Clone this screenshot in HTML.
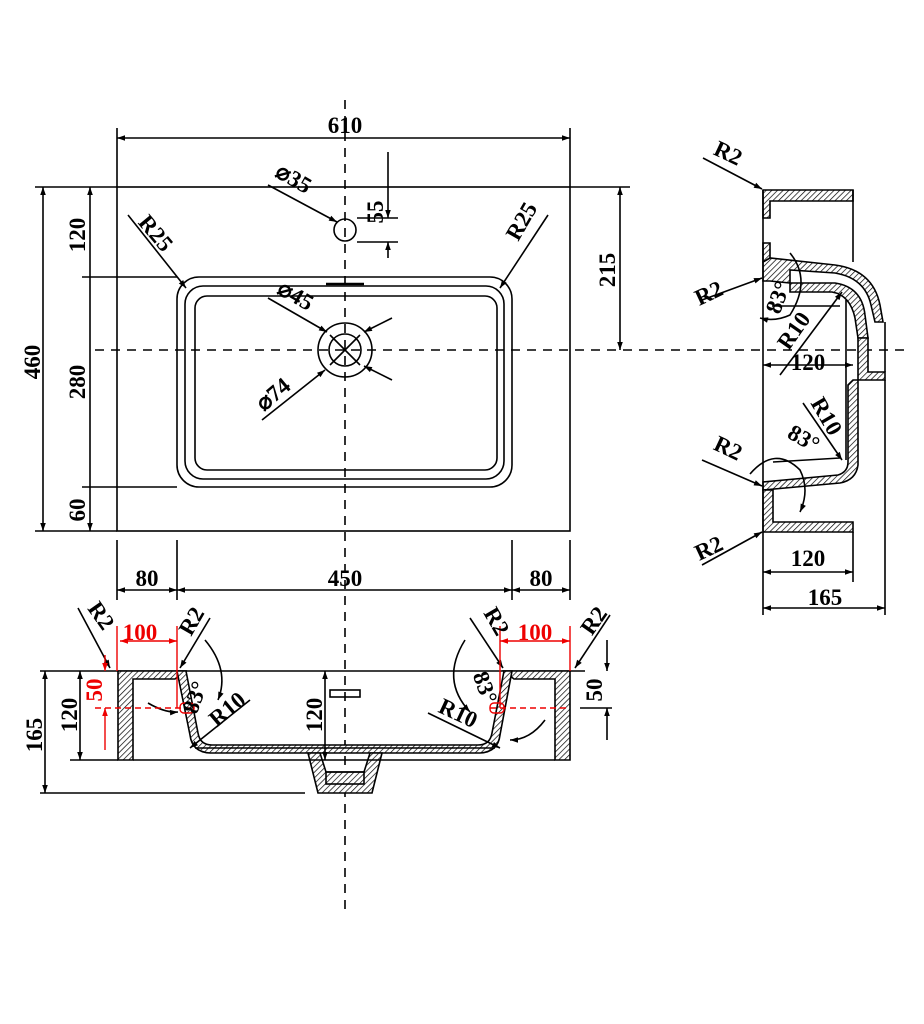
<!DOCTYPE html>
<html><head><meta charset="utf-8"><style>
html,body{margin:0;padding:0;background:#fff;}
svg{display:block;}
text{font-family:"Liberation Serif",serif;font-weight:bold;fill:#000;}
</style></head><body>
<svg width="924" height="1024" viewBox="0 0 924 1024" xmlns="http://www.w3.org/2000/svg">
<defs>
<pattern id="h" width="4" height="4" patternUnits="userSpaceOnUse" patternTransform="rotate(45)">
<rect width="4" height="4" fill="#fff"/><line x1="0" y1="0" x2="0" y2="4" stroke="#000" stroke-width="1.4"/></pattern>
<marker id="a" viewBox="0 0 10 10" refX="10" refY="5" markerWidth="11" markerHeight="8" orient="auto-start-reverse" markerUnits="userSpaceOnUse"><path d="M0,1.5L10,5L0,8.5z" fill="#000"/></marker>
<marker id="r" viewBox="0 0 10 10" refX="10" refY="5" markerWidth="11" markerHeight="8" orient="auto-start-reverse" markerUnits="userSpaceOnUse"><path d="M0,1.5L10,5L0,8.5z" fill="#e00"/></marker>
</defs>
<g fill="none" stroke="#000" stroke-width="1.6">
<line x1="345" y1="100" x2="345" y2="910" stroke-dasharray="9,7"/>
<line x1="95" y1="350" x2="910" y2="350" stroke-dasharray="9,7"/>
<rect x="117" y="187" width="453" height="344"/>
<rect x="177" y="277" width="335" height="210" rx="22"/>
<rect x="185" y="286" width="319" height="193" rx="18"/>
<rect x="195" y="296" width="302" height="174" rx="12"/>
<line x1="326" y1="284" x2="364" y2="284" stroke-width="2.5"/>
<circle cx="345" cy="230" r="11"/>
<circle cx="345" cy="350" r="27"/><circle cx="345" cy="350" r="16"/>
<line x1="330" y1="335" x2="360" y2="365"/><line x1="360" y1="335" x2="330" y2="365"/>
<line x1="117" y1="128" x2="117" y2="187"/><line x1="570" y1="128" x2="570" y2="187"/>
<line x1="117" y1="138" x2="570" y2="138" marker-start="url(#a)" marker-end="url(#a)"/>
<line x1="35" y1="187" x2="117" y2="187"/><line x1="35" y1="531" x2="117" y2="531"/>
<line x1="43" y1="187" x2="43" y2="531" marker-start="url(#a)" marker-end="url(#a)"/>
<line x1="82" y1="277" x2="177" y2="277"/><line x1="82" y1="487" x2="177" y2="487"/>
<line x1="90" y1="187" x2="90" y2="531" marker-start="url(#a)" marker-end="url(#a)"/>
<line x1="570" y1="187" x2="630" y2="187"/>
<line x1="620" y1="187" x2="620" y2="350" marker-start="url(#a)" marker-end="url(#a)"/>
<line x1="357" y1="218" x2="398" y2="218"/><line x1="357" y1="242" x2="398" y2="242"/>
<line x1="388" y1="152" x2="388" y2="218" marker-end="url(#a)"/>
<line x1="388" y1="258" x2="388" y2="242" marker-end="url(#a)"/>
<line x1="268" y1="185" x2="337" y2="222" marker-end="url(#a)"/>
<line x1="268" y1="298" x2="327" y2="332" marker-end="url(#a)"/>
<line x1="262" y1="420" x2="325" y2="370" marker-end="url(#a)"/>
<line x1="392" y1="318" x2="364" y2="332" marker-end="url(#a)"/>
<line x1="392" y1="380" x2="364" y2="366" marker-end="url(#a)"/>
<line x1="128" y1="215" x2="186" y2="288" marker-end="url(#a)"/>
<line x1="548" y1="215" x2="500" y2="288" marker-end="url(#a)"/>
<line x1="117" y1="540" x2="117" y2="600"/><line x1="177" y1="540" x2="177" y2="600"/>
<line x1="512" y1="540" x2="512" y2="600"/><line x1="570" y1="540" x2="570" y2="600"/>
<line x1="117" y1="590" x2="177" y2="590" marker-start="url(#a)" marker-end="url(#a)"/>
<line x1="177" y1="590" x2="512" y2="590" marker-start="url(#a)" marker-end="url(#a)"/>
<line x1="512" y1="590" x2="570" y2="590" marker-start="url(#a)" marker-end="url(#a)"/>
<!-- front section -->
<line x1="40" y1="671" x2="585" y2="671"/>
<line x1="70" y1="760" x2="118" y2="760"/>
<line x1="40" y1="793" x2="305" y2="793"/>
<path d="M118,671 V760 H133 V679 H175 L185,671 Z" fill="url(#h)"/>
<path d="M570,671 V760 H555 V679 H514 L504,671 Z" fill="url(#h)"/>
<path d="M177,671 L190,735 Q192,752 210,753 H480 Q498,752 500,735 L512,671 L504,671 L492,733 Q490,745 478,745 H212 Q200,745 198,733 L186,671 Z" fill="url(#h)"/>
<path d="M308,753 L318,793 H372 L382,753 H370 L364,772 H326 L320,753 Z" fill="url(#h)"/>
<rect x="326" y="772" width="38" height="12"/>
<rect x="330" y="690" width="30" height="7"/>
<line x1="133" y1="760" x2="555" y2="760"/>
<line x1="195" y1="748" x2="495" y2="748"/>
<line x1="45" y1="671" x2="45" y2="793" marker-start="url(#a)" marker-end="url(#a)"/>
<line x1="80" y1="671" x2="80" y2="760" marker-start="url(#a)" marker-end="url(#a)"/>
<line x1="325" y1="671" x2="325" y2="760" marker-start="url(#a)" marker-end="url(#a)"/>
<line x1="580" y1="708" x2="612" y2="708"/>
<line x1="607" y1="640" x2="607" y2="671" marker-end="url(#a)"/>
<line x1="607" y1="740" x2="607" y2="708" marker-end="url(#a)"/>
<line x1="78" y1="608" x2="110" y2="668" marker-end="url(#a)"/>
<line x1="210" y1="618" x2="180" y2="668" marker-end="url(#a)"/>
<line x1="470" y1="618" x2="503" y2="668" marker-end="url(#a)"/>
<line x1="610" y1="615" x2="575" y2="668" marker-end="url(#a)"/>
<line x1="250" y1="700" x2="190" y2="748" marker-end="url(#a)"/>
<line x1="428" y1="713" x2="500" y2="748" marker-end="url(#a)"/>
<path d="M205,640 Q230,670 218,700" marker-end="url(#a)"/>
<path d="M148,703 Q165,713 178,712" marker-end="url(#a)"/>
<path d="M465,640 Q440,680 470,712" marker-end="url(#a)"/>
<path d="M545,720 Q530,740 510,740" marker-end="url(#a)"/>
<!-- side view -->
<path d="M763,190 H853 V201 H770 V218 H763 Z" fill="url(#h)"/>
<path d="M763,243 H770 V262 H763 Z" fill="url(#h)"/>
<path d="M763,262 L770,258 L835,265 Q873,270 880,305 L883,322 H875 L871,305 Q865,278 835,273 L790,270 V283 L770,281 L763,281 Z" fill="url(#h)"/>
<path d="M790,283 L835,283 Q862,287 865,315 L868,338 H858 L855,318 Q850,295 832,292 L790,292 Z" fill="url(#h)"/>
<path d="M858,338 V380 H885 V372 H868 V338 Z" fill="url(#h)"/>
<path d="M853,380 L858,380 V465 Q856,480 840,483 L763,490 V482 L838,475 Q848,472 848,462 V385 Z" fill="url(#h)"/>
<path d="M763,490 H773 V522 H853 V532 H763 Z" fill="url(#h)"/>
<line x1="763" y1="190" x2="763" y2="532"/>
<line x1="853" y1="190" x2="853" y2="262"/>
<line x1="885" y1="322" x2="885" y2="372"/>
<line x1="885" y1="380" x2="885" y2="615"/>
<line x1="772" y1="306" x2="840" y2="306"/>
<line x1="773" y1="462" x2="840" y2="458"/>
<line x1="846" y1="300" x2="846" y2="460"/>
<line x1="763" y1="365" x2="853" y2="365" marker-start="url(#a)" marker-end="url(#a)"/>
<line x1="853" y1="532" x2="853" y2="582"/>
<line x1="763" y1="532" x2="763" y2="615"/>
<line x1="763" y1="572" x2="853" y2="572" marker-start="url(#a)" marker-end="url(#a)"/>
<line x1="763" y1="608" x2="885" y2="608" marker-start="url(#a)" marker-end="url(#a)"/>
<line x1="703" y1="158" x2="762" y2="189" marker-end="url(#a)"/>
<line x1="702" y1="300" x2="762" y2="278" marker-end="url(#a)"/>
<line x1="702" y1="460" x2="762" y2="486" marker-end="url(#a)"/>
<line x1="702" y1="565" x2="762" y2="532" marker-end="url(#a)"/>
<line x1="780" y1="375" x2="842" y2="292" marker-end="url(#a)"/>
<line x1="803" y1="403" x2="842" y2="460" marker-end="url(#a)"/>
<path d="M790,253 Q812,280 790,315 Q775,322 760,318" marker-end="url(#a)"/>
<path d="M750,474 Q775,445 800,470 Q810,490 800,512" marker-end="url(#a)"/>
</g>
<g stroke="#e00" stroke-width="1.4" fill="none">
<line x1="117" y1="626" x2="117" y2="671"/><line x1="177" y1="626" x2="177" y2="708"/>
<line x1="120" y1="641" x2="177" y2="641" marker-start="url(#r)" marker-end="url(#r)"/>
<line x1="105" y1="655" x2="105" y2="671" marker-end="url(#r)"/>
<line x1="105" y1="750" x2="105" y2="708" marker-end="url(#r)"/>
<line x1="95" y1="708" x2="190" y2="708" stroke-dasharray="6,4"/>
<line x1="500" y1="626" x2="500" y2="708"/><line x1="570" y1="626" x2="570" y2="671"/>
<line x1="500" y1="641" x2="570" y2="641" marker-start="url(#r)" marker-end="url(#r)"/>
<line x1="490" y1="708" x2="570" y2="708" stroke-dasharray="6,4"/>
<rect x="180" y="703" width="14" height="10" rx="4"/>
<rect x="490" y="703" width="14" height="10" rx="4"/>
</g>
<g font-size="23">
<text x="345" y="133" text-anchor="middle">610</text>
<text transform="translate(40,362) rotate(-90)" text-anchor="middle">460</text>
<text transform="translate(85,235) rotate(-90)" text-anchor="middle">120</text>
<text transform="translate(85,382) rotate(-90)" text-anchor="middle">280</text>
<text transform="translate(85,510) rotate(-90)" text-anchor="middle">60</text>
<text transform="translate(615,270) rotate(-90)" text-anchor="middle">215</text>
<text transform="translate(383,212) rotate(-90)" text-anchor="middle">55</text>
<text transform="translate(290,185) rotate(30)" text-anchor="middle">⌀35</text>
<text transform="translate(292,302) rotate(30)" text-anchor="middle">⌀45</text>
<text transform="translate(278,400) rotate(-40)" text-anchor="middle">⌀74</text>
<text transform="translate(150,238) rotate(50)" text-anchor="middle">R25</text>
<text transform="translate(528,225) rotate(-60)" text-anchor="middle">R25</text>
<text x="147" y="586" text-anchor="middle">80</text>
<text x="345" y="586" text-anchor="middle">450</text>
<text x="541" y="586" text-anchor="middle">80</text>
<text transform="translate(95,620) rotate(55)" text-anchor="middle">R2</text>
<text transform="translate(198,625) rotate(-60)" text-anchor="middle">R2</text>
<text transform="translate(490,625) rotate(60)" text-anchor="middle">R2</text>
<text transform="translate(600,625) rotate(-55)" text-anchor="middle">R2</text>
<text x="140" y="640" text-anchor="middle" style="fill:#e00">100</text>
<text x="535" y="640" text-anchor="middle" style="fill:#e00">100</text>
<text transform="translate(102,690) rotate(-90)" text-anchor="middle" style="fill:#e00">50</text>
<text transform="translate(602,690) rotate(-90)" text-anchor="middle">50</text>
<text transform="translate(42,735) rotate(-90)" text-anchor="middle">165</text>
<text transform="translate(77,715) rotate(-90)" text-anchor="middle">120</text>
<text transform="translate(322,715) rotate(-90)" text-anchor="middle">120</text>
<text transform="translate(202,700) rotate(-70)" text-anchor="middle">83°</text>
<text transform="translate(232,715) rotate(-40)" text-anchor="middle">R10</text>
<text transform="translate(478,690) rotate(70)" text-anchor="middle">83°</text>
<text transform="translate(455,720) rotate(25)" text-anchor="middle">R10</text>
<text transform="translate(725,160) rotate(25)" text-anchor="middle">R2</text>
<text transform="translate(712,300) rotate(-25)" text-anchor="middle">R2</text>
<text transform="translate(785,300) rotate(-70)" text-anchor="middle">83°</text>
<text transform="translate(800,335) rotate(-55)" text-anchor="middle">R10</text>
<text x="808" y="370" text-anchor="middle">120</text>
<text transform="translate(820,420) rotate(60)" text-anchor="middle">R10</text>
<text transform="translate(725,455) rotate(25)" text-anchor="middle">R2</text>
<text transform="translate(800,445) rotate(30)" text-anchor="middle">83°</text>
<text transform="translate(712,555) rotate(-25)" text-anchor="middle">R2</text>
<text x="808" y="566" text-anchor="middle">120</text>
<text x="825" y="605" text-anchor="middle">165</text>
</g>
</svg>
</body></html>
